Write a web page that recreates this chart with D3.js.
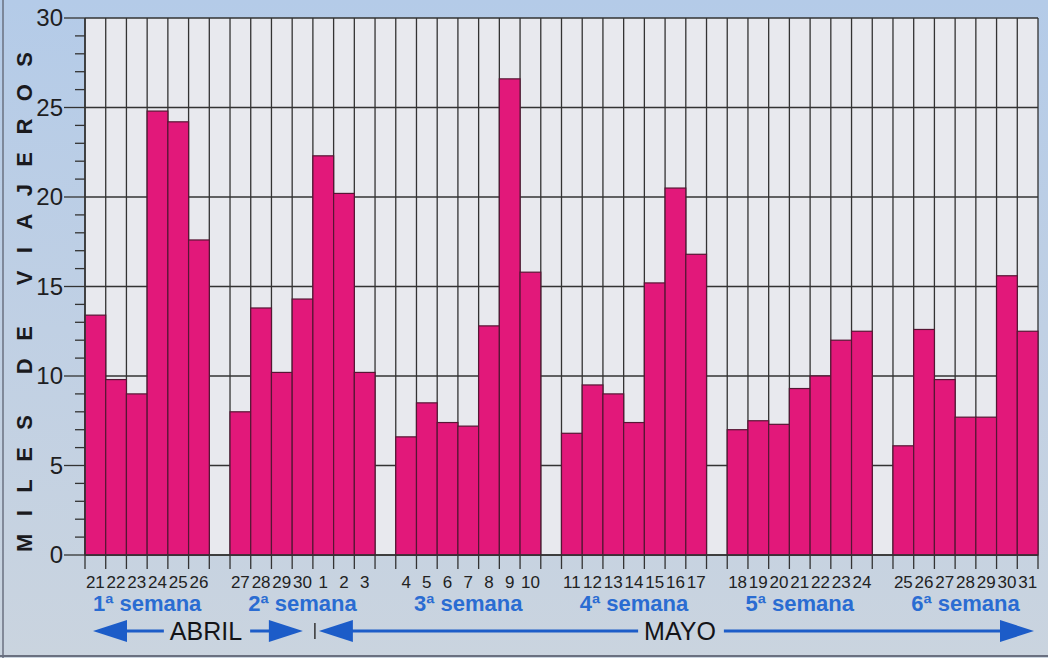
<!DOCTYPE html>
<html>
<head>
<meta charset="utf-8">
<script src="https://cdn.jsdelivr.net/npm/d3@7/dist/d3.min.js"></script>
<style>
  body { margin: 0; background: #c2d0e2; }
  svg { display: block; }
</style>
</head>
<body>
<div id="chart"></div>
<script>
// datos: viajeros diarios (miles), abril-mayo
var weeks = ["1ª semana", "2ª semana", "3ª semana", "4ª semana", "5ª semana", "6ª semana"];
var days = ["21","22","23","24","25","26",
            "27","28","29","30","1","2","3",
            "4","5","6","7","8","9","10",
            "11","12","13","14","15","16","17",
            "18","19","20","21","22","23","24",
            "25","26","27","28","29","30","31"];
var weekOf = [0,0,0,0,0,0,
              1,1,1,1,1,1,1,
              2,2,2,2,2,2,2,
              3,3,3,3,3,3,3,
              4,4,4,4,4,4,4,
              5,5,5,5,5,5,5];
var values = [13.4, 9.8, 9.0, 24.8, 24.2, 17.6,
              8.0, 13.8, 10.2, 14.3, 22.3, 20.2, 10.2,
              6.6, 8.5, 7.4, 7.2, 12.8, 26.6, 15.8,
              6.8, 9.5, 9.0, 7.4, 15.2, 20.5, 16.8,
              7.0, 7.5, 7.3, 9.3, 10.0, 12.0, 12.5,
              6.1, 12.6, 9.8, 7.7, 7.7, 15.6, 12.5];
var yTicks = [0, 5, 10, 15, 20, 25, 30];
var months = ["ABRIL", "MAYO"];
var firstOfMay = 10; // indice del dia "1"

var W = 1048, H = 658;
var mLeft = 85, mRight = 1038, mTop = 18, mBottom = 555;

// slots: un hueco entre semanas
var slots = [];
days.forEach(function(d, i){
  if (i > 0 && weekOf[i] != weekOf[i-1]) slots.push("gap" + weekOf[i]);
  slots.push("d" + i);
});

var x = d3.scaleBand().domain(slots).range([mLeft, mRight]).padding(0);
var y = d3.scaleLinear().domain([0, 30]).range([mBottom, mTop]);
var bw = x.bandwidth();

var svg = d3.select("#chart").append("svg")
  .attr("width", W).attr("height", H);

var defs = svg.append("defs");
var grad = defs.append("linearGradient").attr("id", "bg").attr("x1", 0).attr("y1", 0).attr("x2", 0).attr("y2", 1);
grad.append("stop").attr("offset", "0%").attr("stop-color", "#b4cbe8");
grad.append("stop").attr("offset", "50%").attr("stop-color", "#c0d0e4");
grad.append("stop").attr("offset", "100%").attr("stop-color", "#cad4df");
svg.append("rect").attr("width", W).attr("height", H).attr("fill", "url(#bg)");
// borde de la foto
svg.append("line").attr("x1", 3).attr("x2", 3).attr("y1", 0).attr("y2", H)
  .style("stroke", "#6a7080").style("stroke-width", "1.5px");
svg.append("line").attr("x1", 0).attr("x2", W).attr("y1", H - 2).attr("y2", H - 2)
  .style("stroke", "#6a7080").style("stroke-width", "2px");

// fondo del area
svg.append("rect")
  .attr("x", mLeft).attr("y", mTop)
  .attr("width", mRight - mLeft).attr("height", mBottom - mTop)
  .attr("fill", "#e8e9ee");

// rejilla horizontal
svg.selectAll(".hgrid").data(yTicks).enter().append("line")
  .attr("x1", mLeft).attr("x2", mRight)
  .attr("y1", function(d){ return y(d); }).attr("y2", function(d){ return y(d); })
  .style("stroke", "#333").style("stroke-width", "1.3px");

// rejilla vertical en cada borde de slot
var edges = slots.map(function(s){ return x(s); }).concat([mRight]);
svg.selectAll(".vgrid").data(edges).enter().append("line")
  .attr("x1", function(d){ return d; }).attr("x2", function(d){ return d; })
  .attr("y1", mTop).attr("y2", mBottom + 14)
  .style("stroke", "#333").style("stroke-width", "1.3px");

// barras
svg.selectAll(".bar").data(values).enter().append("rect")
  .attr("x", function(d, i){ return x("d" + i); })
  .attr("y", function(d){ return y(d); })
  .attr("width", bw)
  .attr("height", function(d){ return mBottom - y(d); })
  .style("fill", "#e2187a")
  .style("stroke", "#561634")
  .style("stroke-width", "1.2px");

// eje y
svg.append("line").attr("x1", mLeft).attr("x2", mLeft).attr("y1", mTop).attr("y2", mBottom)
  .style("stroke", "#333").style("stroke-width", "1.5px");
svg.append("line").attr("x1", mLeft).attr("x2", mRight).attr("y1", mBottom).attr("y2", mBottom)
  .style("stroke", "#333").style("stroke-width", "1.5px");

var minor = d3.range(0, 31).filter(function(v){ return v % 5 != 0; });
svg.selectAll(".minor").data(minor).enter().append("line")
  .attr("x1", mLeft - 10).attr("x2", mLeft)
  .attr("y1", function(d){ return y(d); }).attr("y2", function(d){ return y(d); })
  .style("stroke", "#333").style("stroke-width", "1.3px");
svg.selectAll(".major").data(yTicks).enter().append("line")
  .attr("x1", mLeft - 21).attr("x2", mLeft)
  .attr("y1", function(d){ return y(d); }).attr("y2", function(d){ return y(d); })
  .style("stroke", "#333").style("stroke-width", "1.3px");
svg.selectAll(".ylab").data(yTicks).enter().append("text")
  .attr("x", mLeft - 22).attr("y", function(d){ return y(d); })
  .attr("dy", "0.35em")
  .attr("text-anchor", "end")
  .style("font-family", "'Liberation Sans', Arial, sans-serif")
  .style("font-size", "24px")
  .style("fill", "#1e1e22")
  .text(function(d){ return d; });

// titulo eje y
svg.append("text")
  .attr("transform", "translate(32," + 302 + ") rotate(-90)")
  .attr("text-anchor", "middle")
  .attr("textLength", 500)
  .attr("lengthAdjust", "spacing")
  .style("font-family", "'Liberation Sans', Arial, sans-serif")
  .style("font-weight", "bold")
  .style("font-size", "22px")
  .style("fill", "#1a1a1e")
  .text("MILES DE VIAJEROS");

// etiquetas de dias
svg.selectAll(".day").data(days).enter().append("text")
  .attr("x", function(d, i){ return x("d" + i) + bw / 2; })
  .attr("y", 588)
  .attr("text-anchor", "middle")
  .style("font-family", "'Liberation Sans Narrow', 'Liberation Sans', Arial, sans-serif")
  .style("font-stretch", "condensed")
  .style("font-size", "17px")
  .style("fill", "#222")
  .text(function(d){ return d; });

// etiquetas de semanas
svg.selectAll(".week").data(weeks).enter().append("text")
  .attr("x", function(d, w){
    var idx = d3.range(days.length).filter(function(i){ return weekOf[i] == w; });
    var a = x("d" + idx[0]), b = x("d" + idx[idx.length - 1]) + bw;
    return (a + b) / 2;
  })
  .attr("y", 611)
  .attr("text-anchor", "middle")
  .style("font-family", "'Liberation Sans', Arial, sans-serif")
  .style("font-weight", "bold")
  .style("font-size", "22px")
  .style("fill", "#2a6cd2")
  .text(function(d){ return d; });

// flechas de meses
var blue = "#1c5cc8";
var ay = 631;
function arrowHead(tipX, dir){
  var len = 34, half = 11;
  svg.append("path")
    .attr("d", "M" + tipX + "," + ay + " L" + (tipX + dir * len) + "," + (ay - half) +
               " L" + (tipX + dir * len) + "," + (ay + half) + " Z")
    .style("fill", blue);
}
function monthArrow(label, x0, x1, cx){
  var t = svg.append("text")
    .attr("x", cx).attr("y", ay + 9)
    .attr("text-anchor", "middle")
    .style("font-family", "'Liberation Sans', Arial, sans-serif")
    .style("font-size", "25px")
    .style("fill", "#141418")
    .text(label);
  var tw = t.node().getComputedTextLength();
  svg.append("line").attr("x1", x0 + 20).attr("x2", cx - tw / 2 - 6).attr("y1", ay).attr("y2", ay)
    .style("stroke", blue).style("stroke-width", "3px");
  svg.append("line").attr("x1", cx + tw / 2 + 8).attr("x2", x1 - 20).attr("y1", ay).attr("y2", ay)
    .style("stroke", blue).style("stroke-width", "3px");
  arrowHead(x0, 1);
  arrowHead(x1, -1);
}
var sep = x("d" + firstOfMay);
monthArrow(months[0], mLeft + 8, sep - 10, 206);
monthArrow(months[1], sep + 6, mRight - 4, 680);
svg.append("line").attr("x1", sep + 2).attr("x2", sep + 2).attr("y1", ay - 8).attr("y2", ay + 8)
  .style("stroke", "#333").style("stroke-width", "1.5px");
</script>
</body>
</html>
